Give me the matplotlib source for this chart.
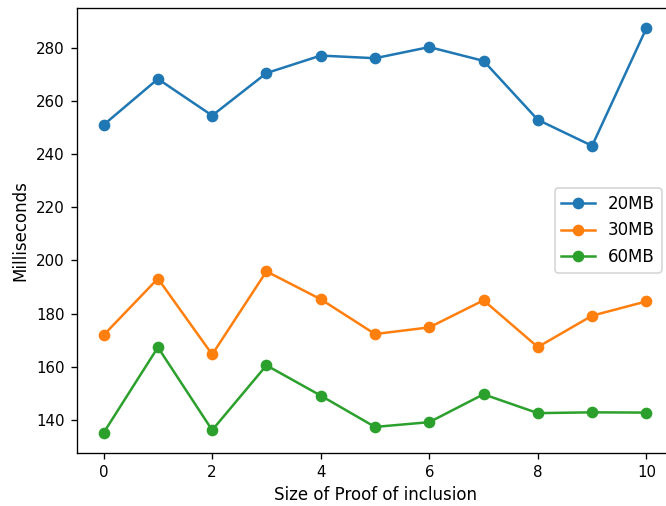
import matplotlib
matplotlib.use("Agg")
import matplotlib.pyplot as plt

x = list(range(11))
labels = ["20MB", "30MB", "60MB"]
s20 = [251.1, 268.4, 254.6, 270.6, 277.2, 276.2, 280.4, 275.2, 253.0, 243.2, 287.5]
s30 = [171.9, 193.2, 164.6, 195.9, 185.4, 172.3, 174.8, 185.0, 167.4, 179.2, 184.6]
s60 = [135.1, 167.3, 136.1, 160.5, 149.1, 137.3, 139.1, 149.6, 142.5, 142.8, 142.7]

fig = plt.figure(figsize=(666/120, 506/120), dpi=120)
ax = fig.add_axes([76.5/666, 53/506, 597/666, 445/506])
for s, l in zip([s20, s30, s60], labels):
    ax.plot(x, s, marker="o", label=l)
ax.tick_params(labelsize=9)
ax.set_xlabel("Size of Proof of inclusion", fontsize=10)
ax.set_ylabel("Milliseconds", fontsize=10)
ax.legend(loc="center right", fontsize=10, borderaxespad=0.72)
fig.savefig("out.png", dpi=120)
